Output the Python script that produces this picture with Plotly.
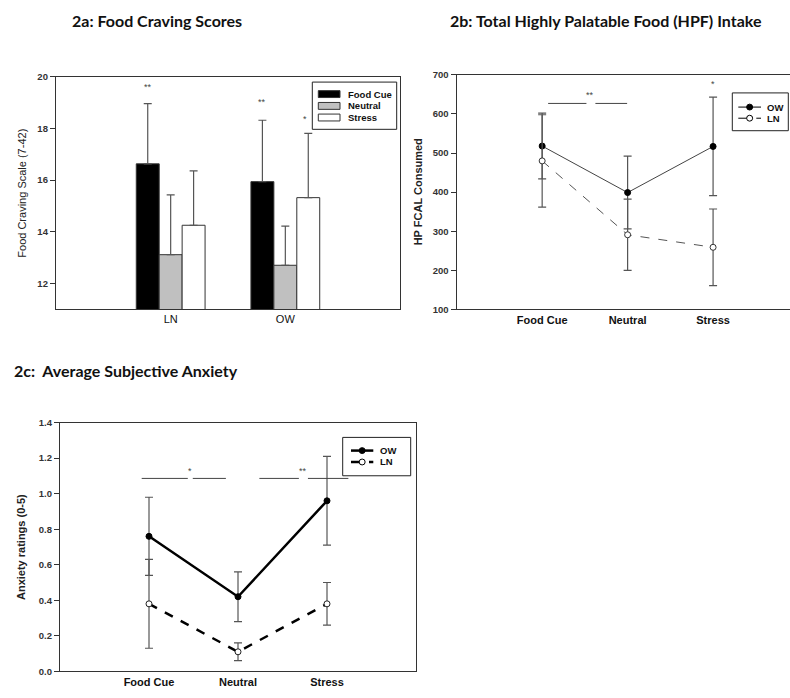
import plotly.graph_objects as go

W, H = 790, 698

# ---- 2a: food craving scores (mean, upper SD) ----
groups = ["LN", "OW"]
craving_food_cue = [16.63, 15.94]
craving_food_cue_sd = [2.33, 2.38]
craving_neutral = [13.11, 12.70]
craving_neutral_sd = [2.32, 1.52]
craving_stress = [14.25, 15.32]
craving_stress_sd = [2.11, 2.49]

# ---- 2b: HPF intake (kcal) ----
conditions = ["Food Cue", "Neutral", "Stress"]
hpf_ow = [518, 399, 517]
hpf_ow_err = [84, 93, 126]
hpf_ln = [480, 291, 259]
hpf_ln_err = [118, 91, 98]

# ---- 2c: subjective anxiety ----
anx_ow = [0.76, 0.42, 0.96]
anx_ow_err = [0.22, 0.14, 0.25]
anx_ln = [0.38, 0.11, 0.38]
anx_ln_err = [0.25, 0.05, 0.12]

# significance markers: (x, y, text) and bracket segments (x0, x1, y)
craving_stars = [(-0.2, 19.59, "**"), (0.8, 19.03, "**"), (1.17, 18.38, "*")]
hpf_stars = [(0.565, 648, "**"), (2.0, 676, "*")]
hpf_brackets = [(0.07, 0.518, 627), (0.623, 0.994, 627)]
anx_stars = [(0.462, 1.13, "*"), (1.734, 1.13, "**")]
anx_brackets = [(-0.082, 0.436, 1.086), (0.492, 0.864, 1.086),
                (1.24, 1.684, 1.086), (1.786, 2.24, 1.086)]

TICK_FONT = dict(family="Liberation Sans, Arial", size=9.5, color="#333")
LBL_FONT = dict(family="Liberation Sans, Arial", size=11, color="#111")
TITLE_FONT = dict(family="Lato, Open Sans", size=16, color="#111", weight="bold")
AX = "#333"
ERR = "#555"


def px(x):
    return x / W


def py(y):
    return 1 - y / H


fig = go.Figure()

# 2a bars
bar_specs = [
    ("Food Cue", craving_food_cue, craving_food_cue_sd, "#000000"),
    ("Neutral", craving_neutral, craving_neutral_sd, "#c0c0c0"),
    ("Stress", craving_stress, craving_stress_sd, "#ffffff"),
]
for name, vals, sd, col in bar_specs:
    fig.add_trace(go.Bar(
        x=groups, y=vals, name=name, xaxis="x", yaxis="y",
        marker=dict(color=col, line=dict(color="#333", width=1)),
        error_y=dict(type="data", symmetric=False, array=sd,
                     arrayminus=[0] * len(sd), color=ERR, thickness=1.2, width=4),
        showlegend=False,
    ))

# 2b lines
fig.add_trace(go.Scatter(
    x=conditions, y=hpf_ow, xaxis="x2", yaxis="y2", mode="lines+markers",
    line=dict(color="#444", width=1),
    marker=dict(size=6, color="#000", line=dict(color="#000", width=1)),
    error_y=dict(type="data", array=hpf_ow_err, color=ERR, thickness=1.2, width=4),
    showlegend=False,
))
fig.add_trace(go.Scatter(
    x=conditions, y=hpf_ln, xaxis="x2", yaxis="y2", mode="lines+markers",
    line=dict(color="#555", width=1, dash="dash"),
    marker=dict(size=6, color="#fff", line=dict(color="#333", width=1)),
    error_y=dict(type="data", array=hpf_ln_err, color=ERR, thickness=1.2, width=4),
    showlegend=False,
))

# 2c lines
fig.add_trace(go.Scatter(
    x=conditions, y=anx_ow, xaxis="x3", yaxis="y3", mode="lines+markers",
    line=dict(color="#000", width=2.5),
    marker=dict(size=6, color="#000", line=dict(color="#000", width=1)),
    error_y=dict(type="data", array=anx_ow_err, color=ERR, thickness=1.2, width=4),
    showlegend=False,
))
fig.add_trace(go.Scatter(
    x=conditions, y=anx_ln, xaxis="x3", yaxis="y3", mode="lines+markers",
    line=dict(color="#000", width=2.5, dash="dash"),
    marker=dict(size=6, color="#fff", line=dict(color="#222", width=1)),
    error_y=dict(type="data", array=anx_ln_err, color=ERR, thickness=1.2, width=4),
    showlegend=False,
))

shapes = []
annotations = []
STAR_FONT = dict(family="Liberation Sans, Arial", size=9, color="#444")

# significance annotations
for x, y, t in craving_stars:
    annotations.append(dict(x=x, y=y, xref="x", yref="y", text=t, showarrow=False,
                            font=STAR_FONT))
for x, y, t in hpf_stars:
    annotations.append(dict(x=x, y=y, xref="x2", yref="y2", text=t, showarrow=False,
                            font=STAR_FONT))
for x0, x1, y in hpf_brackets:
    shapes.append(dict(type="line", xref="x2", yref="y2", x0=x0, x1=x1, y0=y, y1=y,
                       line=dict(color="#444", width=1)))
for x, y, t in anx_stars:
    annotations.append(dict(x=x, y=y, xref="x3", yref="y3", text=t, showarrow=False,
                            font=STAR_FONT))
for x0, x1, y in anx_brackets:
    shapes.append(dict(type="line", xref="x3", yref="y3", x0=x0, x1=x1, y0=y, y1=y,
                       line=dict(color="#444", width=1)))


def box(x0, x1, y0, y1, fill="rgba(0,0,0,0)", lw=1, lc="#222"):
    shapes.append(dict(type="rect", xref="paper", yref="paper",
                       x0=px(x0), x1=px(x1), y0=py(y1), y1=py(y0),
                       fillcolor=fill, line=dict(color=lc, width=lw)))


def text(x, y, t, font, xanchor="left", angle=0):
    annotations.append(dict(x=px(x), y=py(y), xref="paper", yref="paper", text=t,
                            showarrow=False, xanchor=xanchor, yanchor="middle",
                            textangle=angle, font=font))


def line_sample(x0, x1, y, width, dash, filled, r=3.0):
    shapes.append(dict(type="line", xref="paper", yref="paper",
                       x0=px(x0), x1=px(x1), y0=py(y), y1=py(y),
                       line=dict(color="#000", width=width, dash=dash)))
    cx = (x0 + x1) / 2
    shapes.append(dict(type="circle", xref="paper", yref="paper",
                       x0=px(cx - r), x1=px(cx + r), y0=py(y + r), y1=py(y - r),
                       fillcolor="#000" if filled else "#fff",
                       line=dict(color="#000", width=1)))


LEG_FONT = dict(family="Liberation Sans, Arial", size=9.5, color="#111", weight="bold")

# 2a key
box(312.3, 396.7, 77.3, 125.3)
for (name, _, _, col), yc in zip(bar_specs, [89.5, 101.5, 113.3]):
    box(318.3, 340, yc - 3.5, yc + 3.5, fill=col, lc="#333")
    text(345.7, yc, name, LEG_FONT)

# 2b key
box(732.3, 788.3, 88.3, 126.7)
line_sample(738.3, 761, 102.7, 1, "solid", True)
text(765, 102.7, "OW", LEG_FONT)
line_sample(738.3, 761, 114, 1, "dash", False)
text(765, 114, "LN", LEG_FONT)

# 2c key
box(342.7, 410.7, 438.3, 477.3)
line_sample(351, 373.3, 451.7, 2.5, "solid", True)
text(378.3, 451.7, "OW", LEG_FONT)
line_sample(351, 373.3, 463.3, 2.5, "dash", False)
text(378.3, 463.3, "LN", LEG_FONT)

# panel titles
text(70, 15, "2a: Food Craving Scores", TITLE_FONT)
text(448, 15, "2b: Total Highly Palatable Food (HPF) Intake", TITLE_FONT)
text(11.7, 370, "2c:  Average Subjective Anxiety", TITLE_FONT)

# y-axis titles
YT_FONT = dict(family="Liberation Sans, Arial", size=11, color="#222")
text(21.7, 190, "Food Craving Scale (7-42)", YT_FONT, xanchor="center", angle=-90)
text(418.3, 189, "HP FCAL Consumed", dict(YT_FONT, weight="bold"), xanchor="center", angle=-90)
text(21.7, 550, "Anxiety ratings (0-5)", dict(YT_FONT, weight="bold"), xanchor="center", angle=-90)

xax_common = dict(type="category", showline=True, linecolor=AX, linewidth=1.3,
                  ticks="", showgrid=False, zeroline=False, mirror=True,
                  tickfont=dict(LBL_FONT, weight="bold"))
yax_common = dict(showline=True, linecolor=AX, linewidth=1.3, ticks="outside",
                  ticklen=5, tickcolor=AX, tickwidth=1, showgrid=False, zeroline=False,
                  mirror=True, tickfont=dict(TICK_FONT, weight="bold"))

fig.update_layout(
    width=W, height=H,
    margin=dict(l=0, r=0, t=0, b=0),
    paper_bgcolor="#fff", plot_bgcolor="#fff",
    barmode="group", bargap=0.4, bargroupgap=0,
    xaxis=dict(xax_common, domain=[px(56), px(400)], range=[-1, 2], anchor="y",
               tickfont=dict(LBL_FONT)),
    yaxis=dict(yax_common, domain=[py(308), py(72)], range=[11, 20],
               tickvals=[12, 14, 16, 18, 20], anchor="x"),
    xaxis2=dict(xax_common, domain=[px(456.7), 1.0], range=[-1, 2.9], anchor="y2"),
    yaxis2=dict(yax_common, domain=[py(308.3), py(70)], range=[100, 700],
                tickvals=[100, 200, 300, 400, 500, 600, 700], anchor="x2", mirror=False),
    xaxis3=dict(xax_common, domain=[px(60), px(416)], range=[-1, 3], anchor="y3"),
    yaxis3=dict(yax_common, domain=[py(676), py(423.3)], range=[0, 1.4],
                tickvals=[0, 0.2, 0.4, 0.6, 0.8, 1.0, 1.2, 1.4], tickformat=".1f",
                anchor="x3"),
    shapes=shapes,
    annotations=annotations,
)

fig.write_html("out.html")
